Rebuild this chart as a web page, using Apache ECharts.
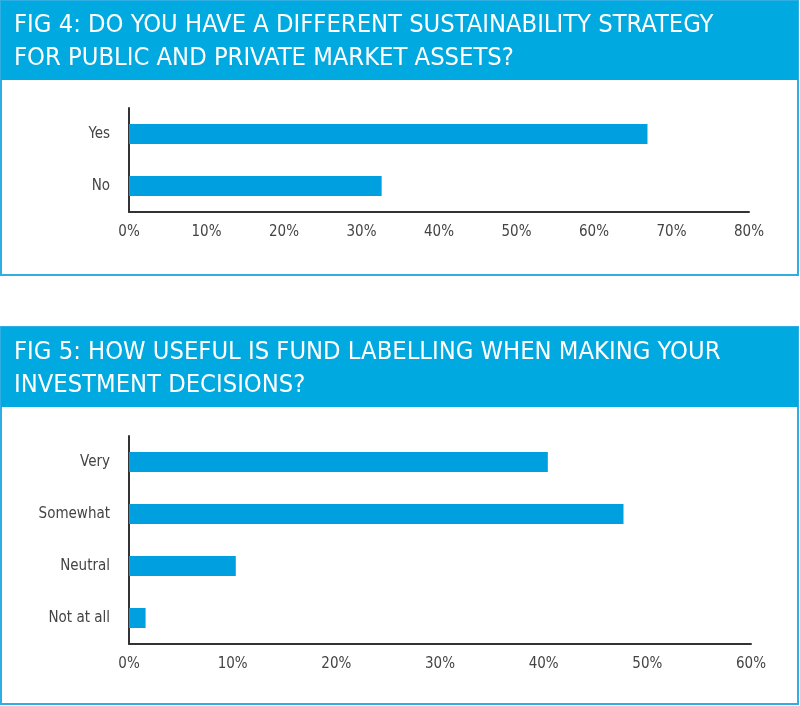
<!DOCTYPE html>
<html>
<head>
<meta charset="utf-8">
<script src="https://cdn.jsdelivr.net/npm/echarts@6/dist/echarts.min.js"></script>
<style>
  html, body { margin: 0; padding: 0; background: #fff; }
  #chart { width: 800px; height: 706px; }
</style>
</head>
<body>
<div id="chart"></div>
<script>
// Fig 4 data
var fig4Categories = ['Yes', 'No']
var fig4Values = [66.9, 32.6]
// Fig 5 data
var fig5Categories = ['Very', 'Somewhat', 'Neutral', 'Not at all']
var fig5Values = [40.4, 47.7, 10.3, 1.6]

var fig4Title = 'FIG 4: DO YOU HAVE A DIFFERENT SUSTAINABILITY STRATEGY\nFOR PUBLIC AND PRIVATE MARKET ASSETS?'
var fig5Title = 'FIG 5: HOW USEFUL IS FUND LABELLING WHEN MAKING YOUR\nINVESTMENT DECISIONS?'

var BLUE = '#00a9e0'
var BAR = '#009fdf'
var BORDER = '#2eaee3'
var FONT = '"DejaVu Sans Condensed", "DejaVu Sans", sans-serif'

var myChart = echarts.init(document.getElementById('chart'))

function valueAxis (gridIndex, max) {
  return {
    type: 'value',
    gridIndex: gridIndex,
    min: 0,
    max: max,
    interval: 10,
    axisLine: { show: true, lineStyle: { color: '#333', width: 2 } },
    axisTick: { show: false },
    splitLine: { show: false },
    axisLabel: {
      formatter: '{value}%',
      color: '#444',
      fontSize: 15,
      fontFamily: FONT,
      margin: 13
    }
  }
}

function catAxis (gridIndex, data) {
  return {
    type: 'category',
    gridIndex: gridIndex,
    data: data,
    inverse: true,
    axisLine: { show: true, lineStyle: { color: '#333', width: 2 } },
    axisTick: { show: false },
    axisLabel: {
      color: '#444',
      fontSize: 15,
      fontFamily: FONT,
      margin: 19
    }
  }
}

var titleStyle = { color: '#fff', fontSize: 25.3, lineHeight: 33, fontWeight: 'normal', fontFamily: FONT }

var option = {
  animation: false,
  title: [
    { text: fig4Title, left: 9, top: 4, textStyle: titleStyle },
    { text: fig5Title, left: 9, top: 331, textStyle: titleStyle }
  ],
  graphic: [
    { type: 'rect', z: -1, shape: { x: 1, y: 1, width: 797, height: 274 }, style: { fill: '#fff', stroke: BORDER, lineWidth: 2 } },
    { type: 'rect', z: 0, shape: { x: 1, y: 1, width: 797, height: 79 }, style: { fill: BLUE } },
    { type: 'rect', z: -1, shape: { x: 1, y: 327, width: 797, height: 377 }, style: { fill: '#fff', stroke: BORDER, lineWidth: 2 } },
    { type: 'rect', z: 0, shape: { x: 1, y: 327, width: 797, height: 80 }, style: { fill: BLUE } }
  ],
  grid: [
    { left: 129, top: 108, width: 620, height: 104 },
    { left: 129, top: 436, width: 622, height: 208 }
  ],
  xAxis: [valueAxis(0, 80), valueAxis(1, 60)],
  yAxis: [catAxis(0, fig4Categories), catAxis(1, fig5Categories)],
  series: [
    {
      type: 'bar',
      xAxisIndex: 0,
      yAxisIndex: 0,
      data: fig4Values,
      barWidth: 20,
      itemStyle: { color: BAR }
    },
    {
      type: 'bar',
      xAxisIndex: 1,
      yAxisIndex: 1,
      data: fig5Values,
      barWidth: 20,
      itemStyle: { color: BAR }
    }
  ]
}

myChart.setOption(option)
</script>
</body>
</html>
